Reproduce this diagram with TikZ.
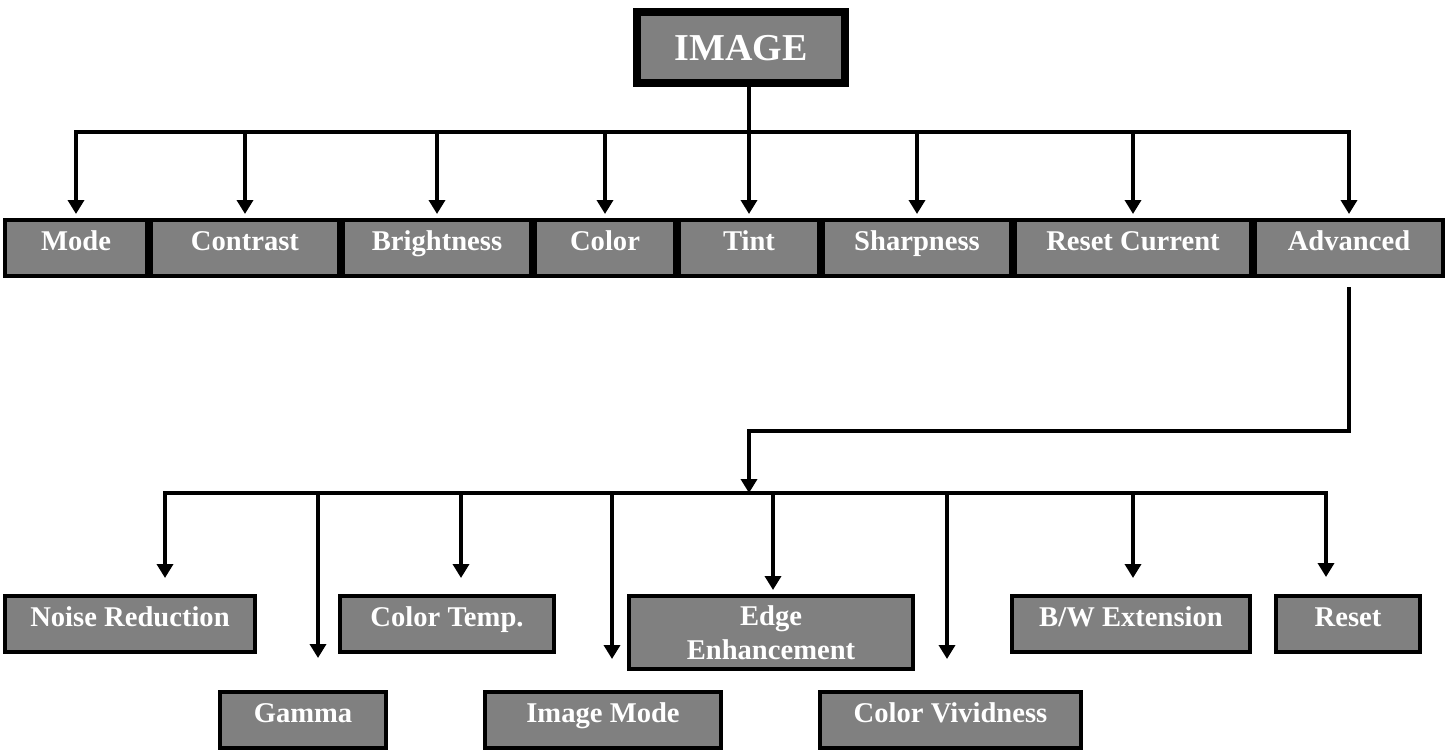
\documentclass[tikz,border=0pt]{standalone}
\usepackage{fontspec}
\setmainfont{Liberation Serif}
\usetikzlibrary{arrows.meta}
\tikzstyle{menubox} = [draw=black, fill=black!50, line width=2pt, rectangle, inner sep=0pt, minimum height=28pt, text=white, font=\bfseries\fontsize{14.3}{17}\selectfont, text height=10pt, text depth=7.5pt]
\tikzstyle{titlebox} = [menubox, line width=4pt, minimum width=104pt, minimum height=35.5pt, font=\bfseries\fontsize{19}{22}\selectfont, text height=13pt, text depth=0pt]
\tikzstyle{link} = [line width=1.8pt, line cap=rect]
\tikzstyle{linkarrow} = [line width=1.8pt, -{Triangle[width=8pt,length=7pt]}]

\begin{document}
\begin{tikzpicture}[x=0.5pt, y=-0.5pt]
\useasboundingbox (0,0) rectangle (1455,749);

\node [titlebox] (image) at (741,47.5) {IMAGE};

% first level
\node [menubox, minimum width=71pt] (mode) at (76,248) {Mode};
\node [menubox, minimum width=94pt] (contrast) at (245,248) {Contrast};
\node [menubox, minimum width=94pt] (brightness) at (437,248) {Brightness};
\node [menubox, minimum width=70pt] (color) at (605,248) {Color};
\node [menubox, minimum width=70pt] (tint) at (749,248) {Tint};
\node [menubox, minimum width=94pt] (sharpness) at (917,248) {Sharpness};
\node [menubox, minimum width=118pt] (resetcur) at (1133,248) {Reset Current};
\node [menubox, minimum width=94pt] (advanced) at (1349,248) {Advanced};

\coordinate (bus1) at (0,132);
\draw [link] (image.south -| tint.north) -- (tint.north |- bus1);
\draw [link] (mode.north |- bus1) -- (advanced.north |- bus1);
\foreach \n in {mode,contrast,brightness,color,tint,sharpness,resetcur,advanced}
  \draw [linkarrow, shorten >=2pt] (\n.north |- bus1) -- (\n.north);

% advanced submenu
\node [menubox, minimum width=125pt] (noise) at (130,624) {Noise Reduction};
\node [menubox, minimum width=107pt] (colortemp) at (447,624) {Color Temp.};
\node [menubox, minimum width=142pt, minimum height=36.5pt, align=center, text height=26.5pt, text depth=0pt] (edge) at (771,632.5) {Edge\\Enhancement};
\node [menubox, minimum width=119pt] (bw) at (1131,624) {B/W Extension};
\node [menubox, minimum width=72pt] (reset) at (1348,624) {Reset};
\node [menubox, minimum width=83pt] (gamma) at (303,720) {Gamma};
\node [menubox, minimum width=118pt] (imagemode) at (603,720) {Image Mode};
\node [menubox, minimum width=130.5pt] (vividness) at (950.5,720) {Color Vividness};

\coordinate (turn) at (749,431);
\coordinate (bus2) at (0,493);
\draw [linkarrow, shorten <=4.5pt] (advanced.south) |- (turn) -- (turn |- bus2);

\coordinate (noiseTip) at (165,578);
\coordinate (gammaTip) at (318,658);
\coordinate (ctempTip) at (461,578);
\coordinate (imodeTip) at (612,659);
\coordinate (edgeTip) at (773,590);
\coordinate (vividTip) at (947,659);
\coordinate (bwTip) at (1133,578);
\coordinate (resetTip) at (1326,577);

\draw [link] (noiseTip |- bus2) -- (resetTip |- bus2);
\foreach \t in {noiseTip,gammaTip,ctempTip,imodeTip,edgeTip,vividTip,bwTip,resetTip}
  \draw [linkarrow] (\t |- bus2) -- (\t);
\end{tikzpicture}
\end{document}
